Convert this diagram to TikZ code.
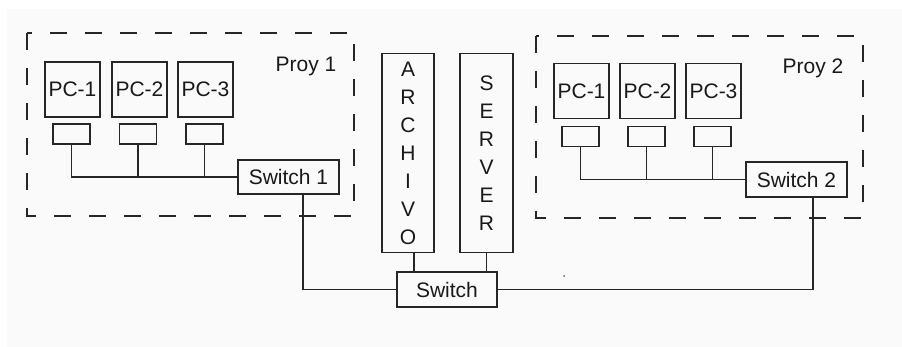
\documentclass[tikz,border=0pt]{standalone}
\usepackage{fontspec}
\setmainfont{Liberation Sans}
\begin{document}
\begin{tikzpicture}[x=1pt,y=-1pt,line width=1.3pt,
  every node/.style={font=\fontsize{21}{28}\selectfont,inner sep=0pt,text=black!90},
  pcbox/.style={draw=black!85,minimum width=55pt,minimum height=55pt},
  nicbox/.style={draw=black!85,minimum width=37pt,minimum height=20pt},
  swbox/.style={draw=black!85,minimum width=101pt,minimum height=34pt},
  tower/.style={draw=black!85,minimum width=53pt,minimum height=199pt,align=center},
  group/.style={draw=black!85,dash pattern=on 17pt off 18pt}]
  \useasboundingbox (0,0) rectangle (902,347);
  \fill[black!2] (7,9) rectangle (902,347);
  % proyecto 1
  \draw[group] (27,33) rectangle (354,216);
  \node (proy1) at (306,66) {Proy 1};
  \node[pcbox] (pcA1) at (72.5,89.5) {PC-1};
  \node[pcbox] (pcA2) at (139.5,89.5) {PC-2};
  \node[pcbox] (pcA3) at (205.5,89.5) {PC-3};
  \node[nicbox] (nicA1) at (71.5,134) {};
  \node[nicbox] (nicA2) at (138,134) {};
  \node[nicbox] (nicA3) at (204.5,134) {};
  \node[swbox] (sw1) at (288.5,177) {Switch 1};
  \draw[black!85] (nicA1.south) |- (sw1.west);
  \draw[black!85] (nicA2.south) -- (nicA2.south |- sw1.west);
  \draw[black!85] (nicA3.south) -- (nicA3.south |- sw1.west);
  % proyecto 2
  \draw[group] (536,36) rectangle (863,218);
  \node (proy2) at (813,68) {Proy 2};
  \node[pcbox] (pcB1) at (581.5,91) {PC-1};
  \node[pcbox] (pcB2) at (647.5,91) {PC-2};
  \node[pcbox] (pcB3) at (713.5,91) {PC-3};
  \node[nicbox] (nicB1) at (580.5,136.5) {};
  \node[nicbox] (nicB2) at (646.5,136.5) {};
  \node[nicbox] (nicB3) at (712.5,136.5) {};
  \node[swbox,minimum height=35pt] (sw2) at (796.5,179.5) {Switch 2};
  \draw[black!85] (nicB1.south) |- (sw2.west);
  \draw[black!85] (nicB2.south) -- (nicB2.south |- sw2.west);
  \draw[black!85] (nicB3.south) -- (nicB3.south |- sw2.west);
  % centro
  \node[tower,minimum width=52pt] (archivo) at (408,153) {A\\R\\C\\H\\I\\V\\O};
  \node[tower] (server) at (486.5,153) {S\\E\\R\\V\\E\\R};
  \node[swbox,minimum width=100pt,minimum height=35pt] (sw) at (447,289.5) {Switch};
  \draw[black!85] ([xshift=6pt]archivo.south) -- ([xshift=6pt]archivo.south |- sw.north);
  \draw[black!85] (server.south) -- (server.south |- sw.north);
  \draw[black!85] ([xshift=14.5pt]sw1.south) |- (sw.west);
  \draw[black!85] ([xshift=16.5pt]sw2.south) |- (sw.east);
  \fill[black!60] (564,276) circle (1pt);
\end{tikzpicture}
\end{document}
